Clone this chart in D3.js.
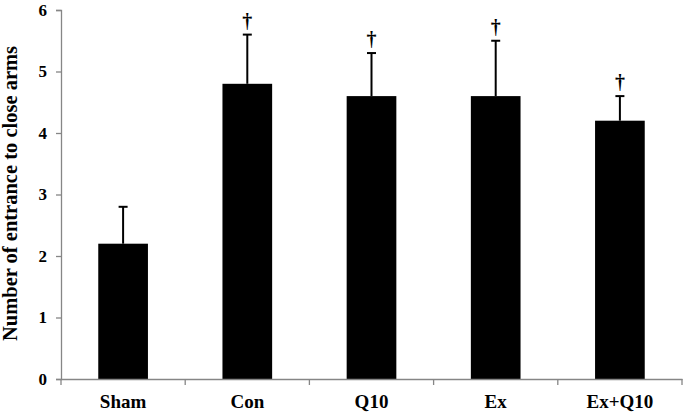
<!DOCTYPE html>
<html>
<head>
<meta charset="utf-8">
<script src="https://cdn.jsdelivr.net/npm/d3@7"></script>
<style>
  body { margin: 0; background: #fff; }
  text { font-family: "Liberation Serif", "Times New Roman", serif; font-weight: bold; }
</style>
</head>
<body>
<svg id="chart"></svg>
<script>
var groups = ["Sham", "Con", "Q10", "Ex", "Ex+Q10"];
var means = [2.2, 4.8, 4.6, 4.6, 4.2];
var errTops = [2.8, 5.6, 5.3, 5.5, 4.6];
var marks = ["", "\u2020", "\u2020", "\u2020", "\u2020"];
var yTicks = [0, 1, 2, 3, 4, 5, 6];

var width = 685,
    height = 415,
    margin = {top: 10, right: 3, bottom: 36, left: 61};

var svg = d3.select("#chart")
    .attr("width", width)
    .attr("height", height);

var x = d3.scaleBand()
    .domain(groups)
    .range([margin.left, width - margin.right])
    .paddingInner(0.6)
    .paddingOuter(0.3);

var xOuter = d3.scaleBand()
    .domain(groups)
    .range([margin.left, width - margin.right]);

var y = d3.scaleLinear()
    .domain([0, 6])
    .range([height - margin.bottom, margin.top]);

var axisColor = "#868686";

// y axis
var yAxis = svg.append("g")
    .attr("transform", "translate(" + margin.left + ",0)")
    .call(d3.axisLeft(y).tickValues(yTicks).tickSize(5).tickPadding(9).tickFormat(d3.format("d")));
yAxis.select(".domain").attr("stroke", axisColor).attr("stroke-width", 1.3);
yAxis.selectAll(".tick line").attr("stroke", axisColor).attr("stroke-width", 1.3);
yAxis.selectAll(".tick text").attr("font-size", 17).attr("fill", "#000");

// bars
svg.append("g").selectAll("rect")
    .data(groups)
    .enter().append("rect")
    .attr("x", function(d) { return x(d); })
    .attr("y", function(d, i) { return y(means[i]); })
    .attr("width", x.bandwidth())
    .attr("height", function(d, i) { return y(0) - y(means[i]); })
    .attr("fill", "#000");

// error bars
var eb = svg.append("g").attr("stroke", "#000").attr("stroke-width", 2);
groups.forEach(function(g, i) {
    var cx = x(g) + x.bandwidth() / 2;
    eb.append("line")
        .attr("x1", cx).attr("x2", cx)
        .attr("y1", y(means[i])).attr("y2", y(errTops[i]));
    eb.append("line")
        .attr("x1", cx - 4.5).attr("x2", cx + 4.5)
        .attr("y1", y(errTops[i])).attr("y2", y(errTops[i]));
    if (marks[i]) {
        svg.append("text")
            .attr("x", cx)
            .attr("y", y(errTops[i]) - 7)
            .attr("text-anchor", "middle")
            .attr("font-size", 20)
            .text(marks[i]);
    }
});

// x axis
var xAxis = svg.append("g")
    .attr("transform", "translate(0," + y(0) + ")")
    .call(d3.axisBottom(xOuter).tickSize(0).tickPadding(15.5));
xAxis.select(".domain").attr("stroke", axisColor).attr("stroke-width", 1.3);
xAxis.selectAll(".tick text").attr("font-size", 19).attr("fill", "#000");

var bounds = groups.map(function(g) { return xOuter(g); }).concat([width - margin.right]);
xAxis.selectAll(".sep")
    .data(bounds)
    .enter().append("line")
    .attr("class", "sep")
    .attr("x1", function(d) { return d; })
    .attr("x2", function(d) { return d; })
    .attr("y1", 0).attr("y2", 6)
    .attr("stroke", axisColor)
    .attr("stroke-width", 1.3);

// y label
svg.append("text")
    .attr("transform", "translate(17,193.5) rotate(-90)")
    .attr("text-anchor", "middle")
    .attr("font-size", 20.5)
    .text("Number of entrance to close arms");
</script>
</body>
</html>
